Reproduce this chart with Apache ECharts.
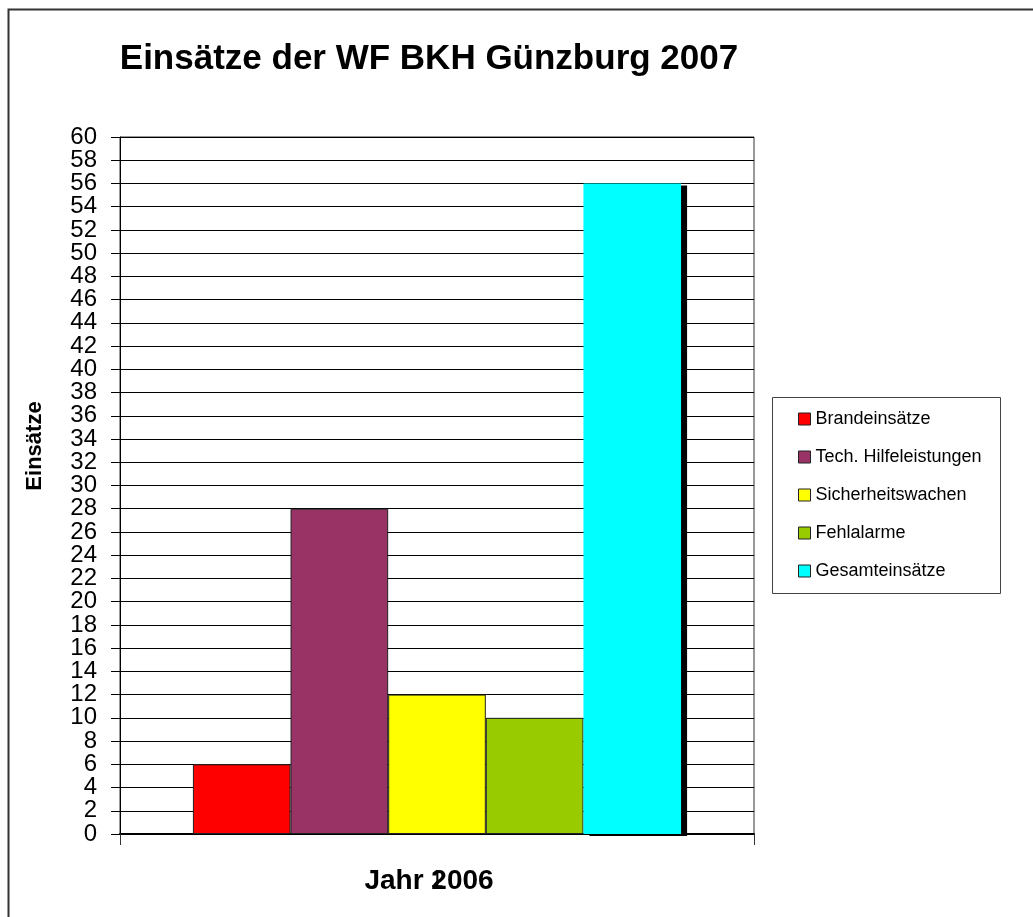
<!DOCTYPE html>
<html>
<head>
<meta charset="utf-8">
<script src="https://cdn.jsdelivr.net/npm/echarts@6/dist/echarts.min.js"></script>
<style>html,body{margin:0;padding:0;background:#fff}#c{width:1033px;height:917px}</style>
</head>
<body>
<div id="c"></div>
<script>
const categories = ['1'];
const seriesNames = ['Brandeinsätze', 'Tech. Hilfeleistungen', 'Sicherheitswachen', 'Fehlalarme', 'Gesamteinsätze'];
const seriesValues = [[6], [28], [12], [10], [56]];
const seriesColors = ['#FF0000', '#993366', '#FFFF00', '#99CC00', '#00FFFF'];
const yTicks = {min: 0, max: 60, interval: 2};

const chart = echarts.init(document.getElementById('c'), null, {renderer: 'canvas'});
const font = 'Liberation Sans, Arial, sans-serif';

const series = seriesNames.map((n, i) => {
  const s = {
    name: n, type: 'bar', data: seriesValues[i], yAxisIndex: 0,
    barGap: '0%', barCategoryGap: '23%',
    itemStyle: {color: seriesColors[i], borderColor: '#222', borderWidth: 1}
  };
  if (i === seriesNames.length - 1) {
    s.itemStyle.borderWidth = 0;
    s.itemStyle.shadowColor = '#000';
    s.itemStyle.shadowOffsetX = 6;
    s.itemStyle.shadowOffsetY = 2;
    s.itemStyle.shadowBlur = 0;
  }
  return s;
});

const yLabelStyle = {fontSize: 24, color: '#000', margin: 23, fontFamily: font};

chart.setOption({
  animation: false,
  backgroundColor: '#fff',
  textStyle: {fontFamily: font},
  title: {
    text: 'Einsätze der WF BKH Günzburg 2007',
    left: 424, top: 37, textAlign: 'center',
    textStyle: {fontSize: 35, fontWeight: 'bold', color: '#000', fontFamily: font}
  },
  grid: {left: 120, top: 137, width: 634, height: 697, show: true, borderColor: '#333', borderWidth: 1, containLabel: false, outerBoundsMode: 'none'},
  legend: {
    orient: 'vertical', left: 793, top: 405,
    itemWidth: 12, itemHeight: 12, itemGap: 20,
    icon: 'rect',
    textStyle: {fontSize: 18, color: '#000', fontFamily: font},
    data: seriesNames.map(n => ({name: n, itemStyle: {borderColor: '#222', borderWidth: 1, shadowOffsetX: 0, shadowOffsetY: 0, shadowColor: 'transparent'}}))
  },
  xAxis: {
    type: 'category', data: categories,
    name: 'Jahr 2006', nameLocation: 'middle', nameGap: 33, nameMoveOverlap: false,
    nameTextStyle: {fontSize: 28, fontWeight: 'bold', color: '#000', fontFamily: font, padding: [0, 16, 0, 0]},
    axisLine: {lineStyle: {color: '#000', width: 2}},
    axisTick: {show: true, length: 11, lineStyle: {color: '#333'}},
    axisLabel: {fontSize: 24, color: '#000', margin: 34, fontFamily: font},
    splitLine: {show: false}
  },
  yAxis: [
    {
      type: 'value', min: yTicks.min, max: yTicks.max, interval: yTicks.interval, position: 'left',
      axisLine: {show: true, lineStyle: {color: '#000', width: 1}},
      axisTick: {show: true, length: 9, lineStyle: {color: '#000'}},
      axisLabel: Object.assign({showMinLabel: false, showMaxLabel: false}, yLabelStyle),
      splitLine: {show: true, lineStyle: {color: '#000', width: 1}}
    },
    {
      type: 'value', min: yTicks.min, max: yTicks.max, interval: yTicks.interval, position: 'left', offset: 0,
      axisLine: {show: false},
      axisTick: {show: true, length: 9, lineStyle: {color: '#000'}},
      axisLabel: Object.assign({showMinLabel: true, showMaxLabel: true,
        formatter: v => (v === yTicks.min || v === yTicks.max) ? String(v) : ''}, yLabelStyle),
      splitLine: {show: false}
    }
  ],
  graphic: [
    {type: 'rect', shape: {x: 8.5, y: 9.5, width: 1100, height: 1000}, style: {fill: 'none', stroke: '#333', lineWidth: 2}, silent: true, z: -10},
    {type: 'rect', shape: {x: 772.5, y: 397.5, width: 228, height: 196}, style: {fill: '#fff', stroke: '#444', lineWidth: 1}, silent: true, z: -5},
    {type: 'text', x: 35, y: 446, rotation: Math.PI / 2, style: {text: 'Einsätze', fontSize: 22, fontWeight: 'bold', fill: '#000', fontFamily: font, align: 'center', verticalAlign: 'middle'}, silent: true}
  ],
  series: series
});
</script>
</body>
</html>
